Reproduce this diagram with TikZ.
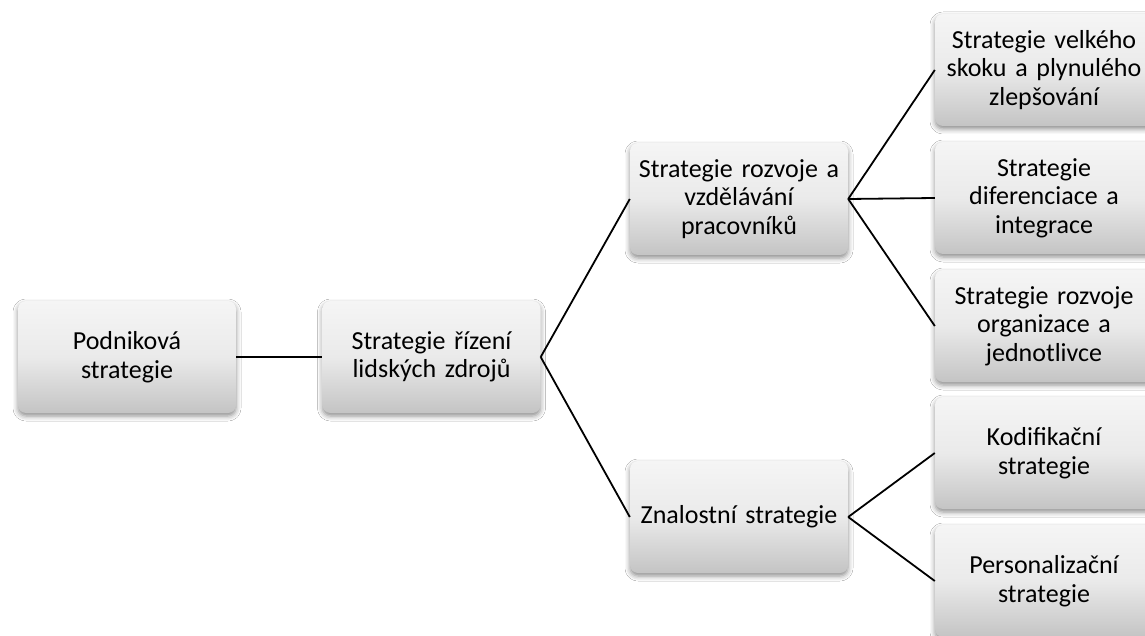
\documentclass[tikz,border=0pt]{standalone}
\usepackage{fontspec}
\setmainfont[WordSpace=0.85]{Carlito}
\usetikzlibrary{shadows.blur}
\definecolor{cardtop}{RGB}{245,245,245}
\definecolor{cardmid}{RGB}{234,234,234}
\definecolor{cardbot}{RGB}{196,196,196}
\tikzset{
  card/.style={rounded corners=8pt, minimum width=218pt, minimum height=112pt,
    text width=214pt, align=center, inner sep=0pt,
    font=\fontsize{26}{28.5}\selectfont, text=black,
    top color=cardtop, bottom color=cardbot, middle color=cardmid,
    blur shadow={shadow xshift=0pt, shadow yshift=-3pt,
      shadow blur radius=5pt, shadow opacity=45}},
  link/.style={line width=1.8pt, black}
}
\begin{document}
\begin{tikzpicture}[x=1pt, y=-1pt]
\useasboundingbox (0,0) rectangle (1145,636);
\fill[white] (0,0) rectangle (1145,636);

\node[card] (corp)  at (127,357)   {Podniková\\strategie};
\node[card] (hrm)   at (431.5,357) {Strategie řízení\\lidských zdrojů};
\node[card] (dev)   at (739,199)   {Strategie rozvoje a\\vzdělávání\\pracovníků};
\node[card] (know)  at (739,517)   {Znalostní strategie};
\node[card] (leap)  at (1044,70)   {Strategie velkého\\skoku a plynulého\\zlepšování};
\node[card] (diff)  at (1044,198)  {Strategie\\diferenciace a\\integrace};
\node[card] (org)   at (1044,326)  {Strategie rozvoje\\organizace a\\jednotlivce};
\node[card] (codif) at (1044,453)  {Kodifikační\\strategie};
\node[card] (pers)  at (1044,581)  {Personalizační\\strategie};

\draw[link] (corp.east) -- (hrm.west);
\draw[link] (hrm.east) -- (dev.west);
\draw[link] (hrm.east) -- (know.west);
\draw[link] (dev.east) -- (leap.west);
\draw[link] (dev.east) -- (diff.west);
\draw[link] (dev.east) -- (org.west);
\draw[link] (know.east) -- (codif.west);
\draw[link] (know.east) -- (pers.west);
\end{tikzpicture}
\end{document}
